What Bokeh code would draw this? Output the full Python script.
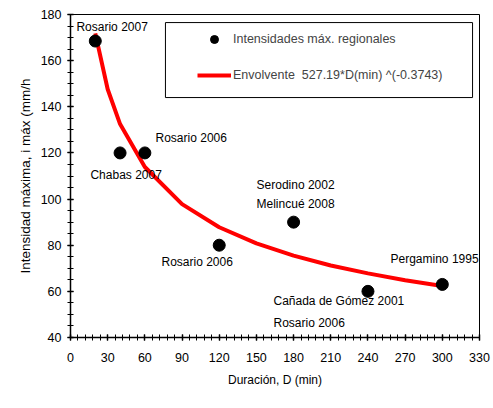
import numpy as np
from bokeh.plotting import figure
from bokeh.models import Range1d, FixedTicker, Legend, LegendItem, BoxAnnotation, Title
from bokeh.embed import file_html
from bokeh.resources import INLINE

# --- data ---
duracion = [20, 40, 60, 120, 180, 240, 300]          # D (min)
intensidad = [168.5, 120, 120, 80, 90, 60, 63]      # i máx (mm/h)

env_d = [20, 30, 40, 60, 90, 120, 150, 180, 210, 240, 270, 300]
env_i = [171.8, 147.6, 132.5, 113.9, 97.8, 87.8, 80.8, 75.5, 71.2, 67.8, 64.8, 62.3]

etiquetas = ["Rosario 2007", "Chabas 2007", "Rosario 2006", "Rosario 2006",
             "Serodino 2002", "Melincué 2008", "Pergamino 1995",
             "Cañada de Gómez 2001", "Rosario 2006"]
etiqueta_x = [4.8, 16.1, 68.6, 73.4, 150.1, 150.1, 258.2, 163.8, 163.8]
etiqueta_y = [174.6, 110.4, 126.3, 72.7, 106.3, 97.7, 74.2, 56.0, 46.5]

x_ticks = list(range(0, 331, 30))
x_minor = list(range(0, 331, 6))
y_ticks = list(range(40, 181, 20))
y_minor = list(range(40, 181, 5))

FONT = "Liberation Sans"
FS = "12.5px"

p = figure(width=493, height=408, output_backend="svg", toolbar_location=None,
           x_range=Range1d(0, 330), y_range=Range1d(40, 180),
           min_border_left=70, min_border_right=14, min_border_top=14, min_border_bottom=71)
p.background_fill_color = "white"
p.border_fill_color = "white"
p.outline_line_color = "black"
p.outline_line_width = 1
p.xgrid.visible = False
p.ygrid.visible = False

for ax in (p.xaxis[0], p.yaxis[0]):
    ax.axis_line_color = "black"
    ax.axis_line_width = 1.5
    ax.major_tick_line_color = "black"
    ax.minor_tick_line_color = "black"
    ax.major_tick_line_width = 1.5
    ax.minor_tick_line_width = 1
    ax.major_tick_in = 3
    ax.major_tick_out = 3
    ax.minor_tick_in = 3
    ax.minor_tick_out = 3
    ax.major_label_text_font = FONT
    ax.major_label_text_font_size = FS
    ax.major_label_text_color = "black"

p.xaxis.ticker = FixedTicker(ticks=x_ticks, minor_ticks=x_minor)
p.yaxis.ticker = FixedTicker(ticks=y_ticks, minor_ticks=y_minor)
p.xaxis.major_label_standoff = 12
p.yaxis.major_label_standoff = 6
p.xaxis.axis_label = "Duración, D (min)"
p.xaxis.axis_label_text_font = FONT
p.xaxis.axis_label_text_font_size = "12px"
p.xaxis.axis_label_text_font_style = "normal"
p.xaxis.axis_label_text_color = "black"
p.xaxis.axis_label_standoff = 8

# legend proxy marker (small dot, hidden below the first data point)
r_leg_pt = p.scatter(duracion[:1], intensidad[:1], size=6, color="black")

# envelope line then points
r_line = p.line(env_d, env_i, line_color="red", line_width=4)
p.scatter(duracion, intensidad, size=12, color="black")

# station labels
p.text(x=etiqueta_x, y=etiqueta_y, text=etiquetas, text_font_size="12px",
       text_align="left", text_baseline="middle", text_color="black",
       text_font={"value": FONT})

# y-axis title
p.add_layout(Title(text="Intensidad máxima, i máx (mm/h", align="center", offset=45,
                   text_font=FONT, text_font_size="13.5px", text_font_style="normal",
                   text_color="black", standoff=10), "left")

# legend box
p.add_layout(BoxAnnotation(left=76.6, right=324.4, bottom=144.0, top=176.5,
                           fill_alpha=0, line_color="black", line_width=1, line_alpha=1))

legend = Legend(items=[LegendItem(label="Intensidades máx. regionales", renderers=[r_leg_pt]),
                       LegendItem(label="Envolvente  527.19*D(min) ^(-0.3743)", renderers=[r_line])],
                location=(127, 252), padding=0, spacing=16, glyph_width=34, glyph_height=20,
                label_height=20, label_standoff=2, border_line_alpha=0,
                background_fill_alpha=0, label_text_font=FONT, label_text_font_size=FS,
                margin=0)
p.add_layout(legend)

open("out.html", "w").write(file_html(p, INLINE))
